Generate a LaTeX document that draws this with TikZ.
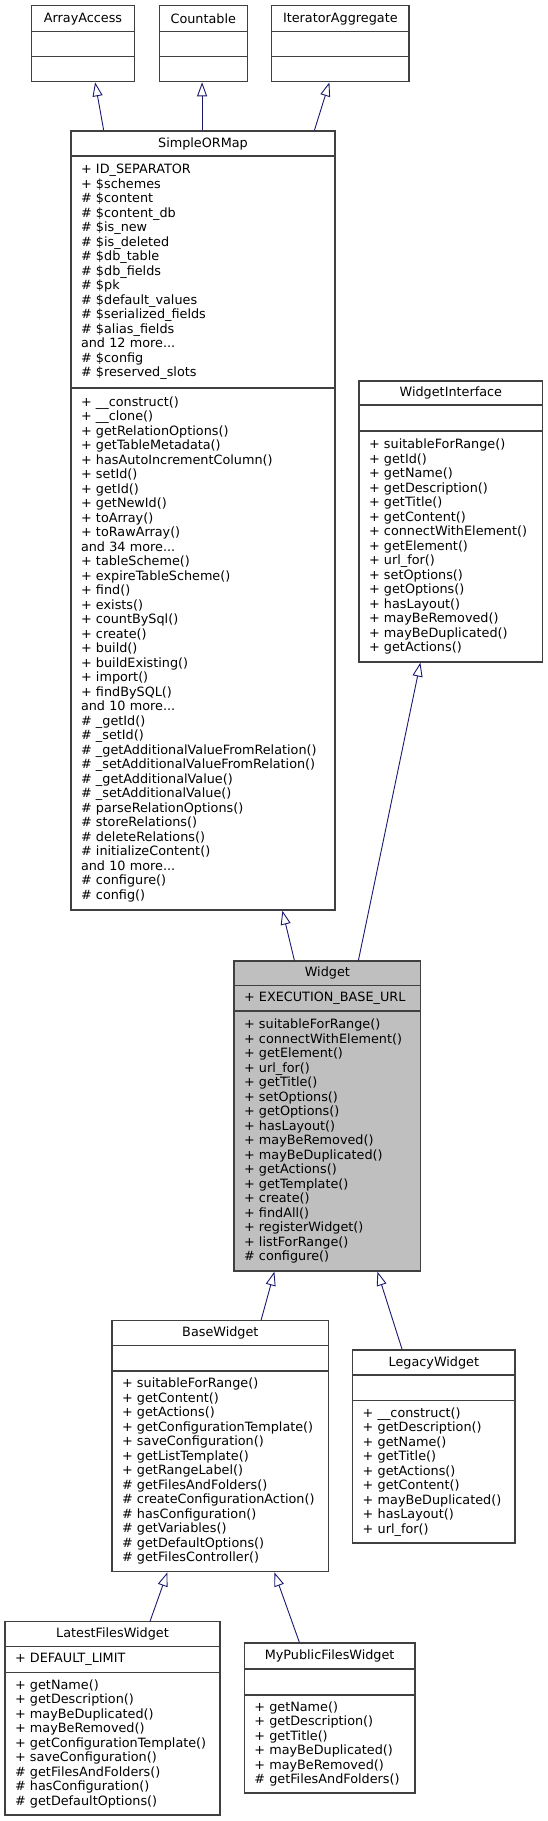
\documentclass[tikz,border=0pt]{standalone}
\usepackage{fontspec}
\newfontfamily\dvsans{DejaVu Sans}
\usetikzlibrary{arrows.meta}
\definecolor{edgeBLU}{HTML}{191970}
\definecolor{boxGRY}{HTML}{404040}
\definecolor{fillCUR}{HTML}{BFBFBF}
\newcommand{\clspart}[7]{%
  \pgfmathsetmacro{\clscx}{(#2+#3)/2}%
  \pgfmathsetmacro{\clscy}{(#4+#5)/2}%
  \pgfmathsetmacro{\clsw}{#3-#2}%
  \pgfmathsetmacro{\clsh}{#5-#4}%
  \pgfmathsetmacro{\clstw}{#3-#2-20}%
  \node[part, minimum width=\clsw pt, minimum height=\clsh pt, text width=\clstw pt, #7] (#1) at (\clscx,\clscy) {#6};}

\begin{document}
\begin{tikzpicture}[x=1pt, y=-1pt,
  part/.style={draw=boxGRY, fill=white, line width=1.2pt, inner xsep=10pt, inner ysep=0pt,
               align=left, font=\dvsans\fontsize{12.8}{14.5}\selectfont},
  ttl/.style={align=center},
  inh/.style={draw=edgeBLU, line width=0.9pt, -{Triangle[open, length=14pt, width=10pt]}}]
\useasboundingbox (0,0) rectangle (548,1821);
% interfaces
\foreach \nm/\ttx/\xl/\xr in {aa/ArrayAccess/31.7/134.3, cnt/Countable/159.3/247.3, ia/IteratorAggregate/271.7/409}
  {\clspart{\nm}{\xl}{\xr}{5.7}{31.7}{\ttx}{ttl}
   \clspart{\nm-a}{\xl}{\xr}{31.7}{56.7}{}{}
   \clspart{\nm-m}{\xl}{\xr}{56.7}{81.7}{}{}}
% SimpleORMap
\clspart{sorm}{71}{335}{131}{156}{SimpleORMap}{ttl}
\clspart{sorm-a}{71}{335}{156}{388}{+ ID\_SEPARATOR\\+ \$schemes\\\# \$content\\\# \$content\_db\\\# \$is\_new\\\# \$is\_deleted\\\# \$db\_table\\\# \$db\_fields\\\# \$pk\\\# \$default\_values\\\# \$serialized\_fields\\\# \$alias\_fields\\and 12 more...\\\# \$config\\\# \$reserved\_slots}{}
\clspart{sorm-m}{71}{335}{388}{910}{+ \_\_construct()\\+ \_\_clone()\\+ getRelationOptions()\\+ getTableMetadata()\\+ hasAutoIncrementColumn()\\+ setId()\\+ getId()\\+ getNewId()\\+ toArray()\\+ toRawArray()\\and 34 more...\\+ tableScheme()\\+ expireTableScheme()\\+ find()\\+ exists()\\+ countBySql()\\+ create()\\+ build()\\+ buildExisting()\\+ import()\\+ findBySQL()\\and 10 more...\\\# \_getId()\\\# \_setId()\\\# \_getAdditionalValueFromRelation()\\\# \_setAdditionalValueFromRelation()\\\# \_getAdditionalValue()\\\# \_setAdditionalValue()\\\# parseRelationOptions()\\\# storeRelations()\\\# deleteRelations()\\\# initializeContent()\\and 10 more...\\\# configure()\\\# config()}{}
% WidgetInterface
\clspart{wi}{359}{542.7}{381}{405}{WidgetInterface}{ttl}
\clspart{wi-a}{359}{542.7}{405}{431}{}{}
\clspart{wi-m}{359}{542.7}{431}{662}{+ suitableForRange()\\+ getId()\\+ getName()\\+ getDescription()\\+ getTitle()\\+ getContent()\\+ connectWithElement()\\+ getElement()\\+ url\_for()\\+ setOptions()\\+ getOptions()\\+ hasLayout()\\+ mayBeRemoved()\\+ mayBeDuplicated()\\+ getActions()}{}
% Widget
\clspart{wdg}{234}{420.7}{961}{985.7}{Widget}{ttl, fill=fillCUR}
\clspart{wdg-a}{234}{420.7}{985.7}{1011}{+ EXECUTION\_BASE\_URL}{fill=fillCUR}
\clspart{wdg-m}{234}{420.7}{1011}{1271}{+ suitableForRange()\\+ connectWithElement()\\+ getElement()\\+ url\_for()\\+ getTitle()\\+ setOptions()\\+ getOptions()\\+ hasLayout()\\+ mayBeRemoved()\\+ mayBeDuplicated()\\+ getActions()\\+ getTemplate()\\+ create()\\+ findAll()\\+ registerWidget()\\+ listForRange()\\\# configure()}{fill=fillCUR}
% BaseWidget
\clspart{bw}{112}{328.7}{1320.7}{1345.7}{BaseWidget}{ttl}
\clspart{bw-a}{112}{328.7}{1345.7}{1371}{}{}
\clspart{bw-m}{112}{328.7}{1371}{1571.7}{+ suitableForRange()\\+ getContent()\\+ getActions()\\+ getConfigurationTemplate()\\+ saveConfiguration()\\+ getListTemplate()\\+ getRangeLabel()\\\# getFilesAndFolders()\\\# createConfigurationAction()\\\# hasConfiguration()\\\# getVariables()\\\# getDefaultOptions()\\\# getFilesController()}{}
% LegacyWidget
\clspart{lw}{352.7}{515}{1350}{1375}{LegacyWidget}{ttl}
\clspart{lw-a}{352.7}{515}{1375}{1400.7}{}{}
\clspart{lw-m}{352.7}{515}{1400.7}{1543}{+ \_\_construct()\\+ getDescription()\\+ getName()\\+ getTitle()\\+ getActions()\\+ getContent()\\+ mayBeDuplicated()\\+ hasLayout()\\+ url\_for()}{}
% LatestFilesWidget
\clspart{lf}{5}{220}{1621.7}{1646.7}{LatestFilesWidget}{ttl}
\clspart{lf-a}{5}{220}{1646.7}{1672.7}{+ DEFAULT\_LIMIT}{}
\clspart{lf-m}{5}{220}{1672.7}{1815}{+ getName()\\+ getDescription()\\+ mayBeDuplicated()\\+ mayBeRemoved()\\+ getConfigurationTemplate()\\+ saveConfiguration()\\\# getFilesAndFolders()\\\# hasConfiguration()\\\# getDefaultOptions()}{}
% MyPublicFilesWidget
\clspart{mp}{244.3}{415}{1643}{1669}{MyPublicFilesWidget}{ttl}
\clspart{mp-a}{244.3}{415}{1669}{1695}{}{}
\clspart{mp-m}{244.3}{415}{1695}{1793}{+ getName()\\+ getDescription()\\+ getTitle()\\+ mayBeDuplicated()\\+ mayBeRemoved()\\\# getFilesAndFolders()}{}
% inheritance
\draw[inh] ([xshift=33.3pt]sorm.north west) -- ([xshift=64pt]aa-m.south west);
\draw[inh] ([xshift=131.7pt]sorm.north west) -- ([xshift=43.4pt]cnt-m.south west);
\draw[inh] ([xshift=244pt]sorm.north west) -- ([xshift=58.3pt]ia-m.south west);
\draw[inh] ([xshift=61pt]wdg.north west) -- ([xshift=212pt]sorm-m.south west);
\draw[inh] ([xshift=125pt]wdg.north west) -- ([xshift=62pt]wi-m.south west);
\draw[inh] ([xshift=149.7pt]bw.north west) -- ([xshift=41pt]wdg-m.south west);
\draw[inh] ([xshift=50pt]lw.north west) -- ([xshift=144pt]wdg-m.south west);
\draw[inh] ([xshift=145.7pt]lf.north west) -- ([xshift=56pt]bw-m.south west);
\draw[inh] ([xshift=55.7pt]mp.north west) -- ([xshift=163pt]bw-m.south west);
\end{tikzpicture}
\end{document}
